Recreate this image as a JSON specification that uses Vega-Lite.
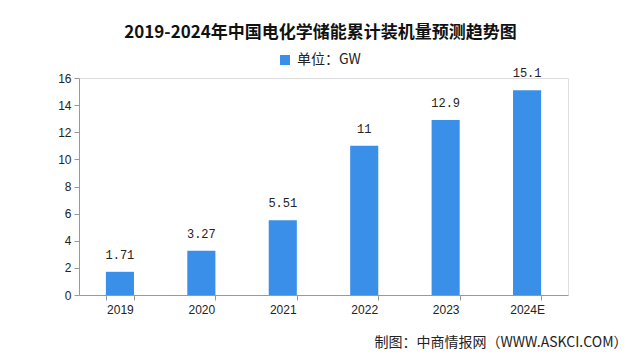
{
  "$schema": "https://vega.github.io/schema/vega-lite/v6.json",
  "width": 489,
  "height": 217,
  "autosize": {"type": "none"},
  "padding": {"left": 79, "top": 78, "right": 72, "bottom": 63},
  "background": "white",
  "title": {
    "text": "2019-2024年中国电化学储能累计装机量预测趋势图",
    "font": "Noto Sans CJK SC",
    "fontSize": 17,
    "fontWeight": "bold",
    "color": "#111111",
    "anchor": "middle",
    "dx": -3,
    "offset": 11
  },
  "data": {
    "values": [
      {"year": "2019", "value": 1.71, "label": "1.71", "series": "单位：GW"},
      {"year": "2020", "value": 3.27, "label": "3.27", "series": "单位：GW"},
      {"year": "2021", "value": 5.51, "label": "5.51", "series": "单位：GW"},
      {"year": "2022", "value": 11, "label": "11", "series": "单位：GW"},
      {"year": "2023", "value": 12.9, "label": "12.9", "series": "单位：GW"},
      {"year": "2024E", "value": 15.1, "label": "15.1", "series": "单位：GW"}
    ]
  },
  "encoding": {
    "x": {
      "field": "year",
      "type": "nominal",
      "sort": null,
      "scale": {"paddingInner": 0.655, "paddingOuter": 0.33},
      "axis": {
        "title": "制图：中商情报网（WWW.ASKCI.COM）",
        "titleFont": "Noto Sans CJK SC",
        "titleFontSize": 14,
        "titleFontWeight": "normal",
        "titleColor": "#222222",
        "titleAnchor": "end",
        "titleAlign": "right",
        "titleBaseline": "middle",
        "titleX": 548,
        "titleY": 47,
        "labelAngle": 0,
        "labelFont": "Liberation Sans",
        "labelFontSize": 12,
        "labelColor": "#222222",
        "labelPadding": 4,
        "tickBand": "extent",
        "tickSize": 5,
        "tickColor": "#999999",
        "domainColor": "#999999",
        "grid": false
      }
    },
    "y": {
      "field": "value",
      "type": "quantitative",
      "scale": {"domain": [0, 16], "nice": false},
      "axis": {
        "title": null,
        "values": [0, 2, 4, 6, 8, 10, 12, 14, 16],
        "labelFont": "Liberation Sans",
        "labelFontSize": 12,
        "labelColor": "#222222",
        "labelPadding": 3,
        "tickSize": 5,
        "tickColor": "#999999",
        "domainColor": "#999999",
        "grid": false
      }
    }
  },
  "layer": [
    {
      "mark": {"type": "bar"},
      "encoding": {
        "color": {
          "field": "series",
          "type": "nominal",
          "scale": {"range": ["#3a8fe8"]},
          "legend": {
            "title": null,
            "orient": "none",
            "legendX": 199,
            "legendY": -25,
            "symbolType": "square",
            "symbolSize": 100,
            "symbolStrokeWidth": 0,
            "labelFont": "Noto Sans CJK SC",
            "labelFontSize": 14,
            "labelColor": "#222222",
            "labelOffset": 5
          }
        }
      }
    },
    {
      "mark": {
        "type": "text",
        "baseline": "bottom",
        "dy": -10,
        "font": "Liberation Mono",
        "fontSize": 12,
        "color": "#222222"
      },
      "encoding": {"text": {"field": "label"}}
    }
  ]
}
